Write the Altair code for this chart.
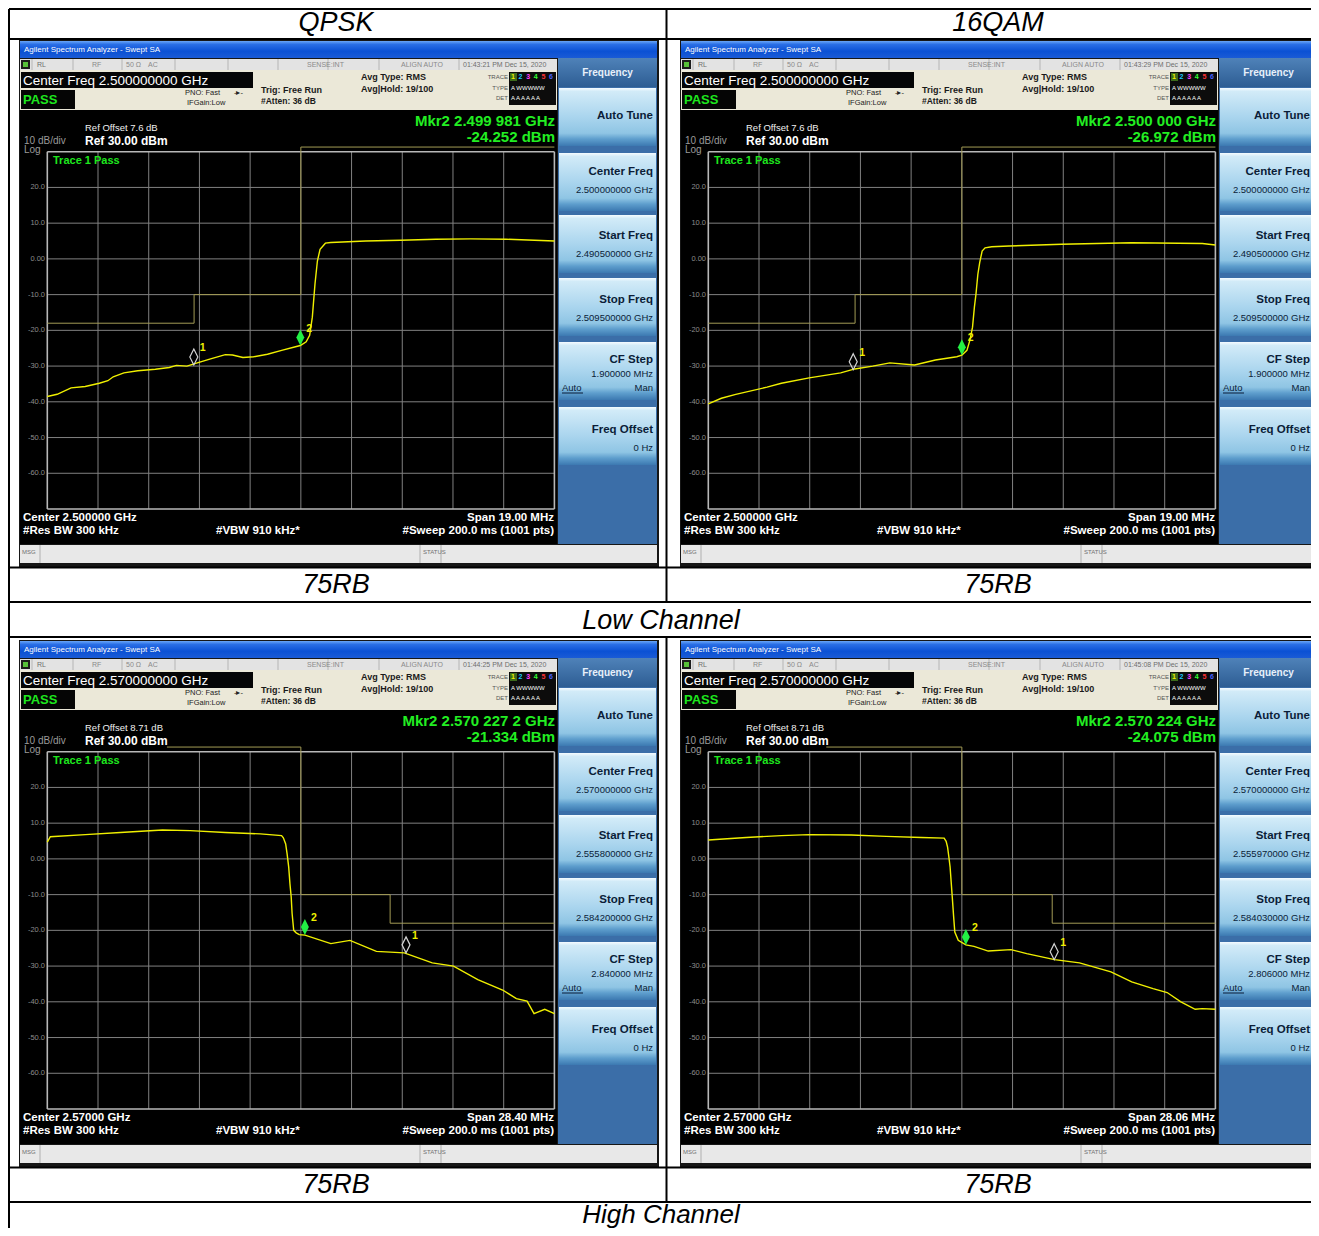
import altair as alt
import pandas as pd

# ============================== DATA ==============================
# Trace readings (frequency in MHz, level in dBm)
qpsk_low_freq = [2490.50, 2490.87, 2491.39, 2491.92, 2492.45, 2492.77, 2492.97, 2493.37, 2493.89,
                 2494.55, 2495.07, 2495.34, 2495.73, 2496.12, 2496.65, 2497.17, 2497.44, 2497.83,
                 2498.23, 2498.75, 2499.28, 2499.80, 2499.98, 2500.20, 2500.33, 2500.43, 2500.53,
                 2500.62, 2500.72, 2500.92, 2501.12, 2502.43, 2503.74, 2505.06, 2506.37, 2507.69, 2509.50]
qpsk_low_level = [-38.5, -37.9, -36.1, -35.7, -34.8, -34.1, -33.0, -31.9, -31.3,
                  -30.9, -30.4, -29.8, -30.0, -29.1, -27.9, -26.8, -26.9, -27.6,
                  -27.4, -26.7, -25.6, -24.6, -24.25, -23.2, -21.4, -16.3, -7.0,
                  -0.6, 2.7, 4.4, 4.6, 5.0, 5.2, 5.5, 5.6, 5.5, 5.0]

qam_low_freq = [2490.50, 2490.99, 2491.53, 2492.70, 2493.24, 2494.28, 2495.46, 2495.99, 2496.66,
                2497.30, 2498.23, 2499.01, 2499.81, 2500.00, 2500.19, 2500.30, 2500.40, 2500.47,
                2500.53, 2500.60, 2500.67, 2500.76, 2500.87, 2501.12, 2501.77, 2503.74, 2506.37,
                2509.01, 2509.50]
qam_low_level = [-40.6, -39.0, -37.9, -35.9, -34.8, -33.3, -31.9, -30.8, -30.0,
                 -29.1, -29.7, -28.3, -27.4, -26.97, -25.6, -22.8, -19.1, -13.5,
                 -9.8, -4.3, -1.0, 2.2, 3.1, 3.4, 3.6, 4.1, 4.5,
                 4.3, 3.9]

qpsk_high_freq = [2555.80, 2555.97, 2557.93, 2559.89, 2562.25, 2563.81, 2565.77, 2567.73, 2568.92,
                  2569.02, 2569.15, 2569.23, 2569.32, 2569.39, 2569.46, 2569.51, 2569.60, 2569.74,
                  2569.91, 2570.23, 2571.68, 2572.75, 2574.23, 2575.79, 2577.36, 2578.55, 2579.91,
                  2581.30, 2582.07, 2582.67, 2583.06, 2583.66, 2584.20]
qpsk_high_level = [4.7, 6.2, 6.8, 7.4, 8.1, 7.9, 7.4, 7.0, 6.5,
                   5.9, 4.2, 1.4, -2.3, -7.0, -10.7, -15.3, -20.0, -20.7,
                   -21.2, -21.33, -23.7, -22.8, -25.9, -26.3, -29.1, -30.0, -33.8,
                   -36.7, -39.1, -39.8, -43.3, -42.1, -43.3]

qam_high_freq = [2555.97, 2558.07, 2560.01, 2561.55, 2563.88, 2565.82, 2567.76, 2569.02, 2569.13,
                 2569.21, 2569.28, 2569.35, 2569.41, 2569.47, 2569.54, 2569.61, 2569.80, 2570.22,
                 2570.67, 2571.46, 2572.72, 2573.59, 2575.13, 2576.51, 2578.25, 2579.40, 2580.58,
                 2581.36, 2582.12, 2582.91, 2583.30, 2584.03]
qam_high_level = [5.3, 6.0, 6.5, 6.8, 6.7, 6.3, 6.0, 5.8, 4.9,
                  3.3, 0.6, -2.3, -6.5, -10.7, -15.8, -20.5, -22.8, -24.08,
                  -24.5, -25.8, -25.4, -26.5, -28.2, -29.1, -31.6, -34.4, -36.3,
                  -37.4, -40.0, -42.1, -41.9, -42.1]

# Limit (mask) line vertices
low_limit_freq = [2490.5, 2496.0, 2496.0, 2500.0, 2500.0, 2509.5]
low_limit_level = [-18, -18, -10, -10, 31.3, 31.3]
qpsk_high_limit_freq = [2562.5, 2570.0, 2570.0, 2575.0, 2575.0, 2584.2]
qam_high_limit_freq = [2562.5, 2570.0, 2570.0, 2575.0, 2575.0, 2584.03]
high_limit_level = [31.3, 31.3, -10, -10, -18, -18]

# Markers (freq MHz, level dBm): marker 1 and marker 2 per screenshot
marker1_freq = [2495.99, 2495.93, 2575.89, 2575.11]
marker1_level = [-29.7, -31.0, -26.3, -28.2]
marker2_freq = [2499.981, 2500.000, 2570.227, 2570.224]
marker2_level = [-24.252, -26.972, -21.334, -24.075]

# Frequency spans (start, stop in MHz)
span_start = [2490.5, 2490.5, 2555.8, 2555.97]
span_stop = [2509.5, 2509.5, 2584.2, 2584.03]

# Display graticule
ref_levels = [30, 20, 10, 0, -10, -20, -30, -40, -50, -60, -70]
y_tick_levels = [20, 10, 0, -10, -20, -30, -40, -50, -60]
y_tick_labels = ["20.0", "10.0", "0.00", "-10.0", "-20.0", "-30.0", "-40.0", "-50.0", "-60.0"]

# Screen texts per screenshot
hdr_center = ["Center Freq 2.500000000 GHz", "Center Freq 2.500000000 GHz",
              "Center Freq 2.570000000 GHz", "Center Freq 2.570000000 GHz"]
stamps = ["01:43:21 PM Dec 15, 2020", "01:43:29 PM Dec 15, 2020",
          "01:44:25 PM Dec 15, 2020", "01:45:08 PM Dec 15, 2020"]
ref_offsets = ["Ref Offset 7.6 dB", "Ref Offset 7.6 dB", "Ref Offset 8.71 dB", "Ref Offset 8.71 dB"]
mkr_freq_txt = ["Mkr2 2.499 981 GHz", "Mkr2 2.500 000 GHz", "Mkr2 2.570 227 2 GHz", "Mkr2 2.570 224 GHz"]
mkr_level_txt = ["-24.252 dBm", "-26.972 dBm", "-21.334 dBm", "-24.075 dBm"]
center_txt = ["Center 2.500000 GHz", "Center 2.500000 GHz", "Center 2.57000 GHz", "Center 2.57000 GHz"]
span_txt = ["Span 19.00 MHz", "Span 19.00 MHz", "Span 28.40 MHz", "Span 28.06 MHz"]
sk_center = ["2.500000000 GHz", "2.500000000 GHz", "2.570000000 GHz", "2.570000000 GHz"]
sk_start = ["2.490500000 GHz", "2.490500000 GHz", "2.555800000 GHz", "2.555970000 GHz"]
sk_stop = ["2.509500000 GHz", "2.509500000 GHz", "2.584200000 GHz", "2.584030000 GHz"]
sk_step = ["1.900000 MHz", "1.900000 MHz", "2.840000 MHz", "2.806000 MHz"]

# Table labels
col_titles = ["QPSK", "16QAM"]
rb_label = "75RB"
row_titles = ["Low Channel", "High Channel"]

traces_freq = [qpsk_low_freq, qam_low_freq, qpsk_high_freq, qam_high_freq]
traces_level = [qpsk_low_level, qam_low_level, qpsk_high_level, qam_high_level]
limits_freq = [low_limit_freq, low_limit_freq, qpsk_high_limit_freq, qam_high_limit_freq]
limits_level = [low_limit_level, low_limit_level, high_limit_level, high_limit_level]

# ============================== LAYOUT ==============================
OFF = 8
W, H = 1303, 1220
SANS = "Liberation Sans, Arial, Helvetica, sans-serif"
ORIGINS = [(20, 41), (681, 41), (20, 641), (681, 641)]
SK_RIGHT = [633, 629, 633, 629]   # right edge of soft-key labels (kept inside the page)
DIAMOND = "M0,-1L0.25,-0.5L0,0L-0.25,-0.5Z"

rects, lines, texts, grads = [], [], [], {}


def R(x0, y0, x1, y1, fill):
    rects.append(dict(x=x0 - OFF, x2=x1 - OFF, y=y0 - OFF, y2=y1 - OFF, c=fill))


def L(x0, y0, x1, y1, color, w=1.0):
    lines.append(dict(x=x0 - OFF, x2=x1 - OFF, y=y0 - OFF, y2=y1 - OFF, c=color, w=w))


def T(x, y, t, size, color, align="left", weight="normal", italic=False):
    texts.append(dict(x=x - OFF, y=y - OFF, t=t, s=size, c=color, align=align, weight=weight,
                      style="italic" if italic else "normal"))


def G(name, x0, y0, x1, y1):
    grads.setdefault(name, []).append(dict(x=x0 - OFF, x2=x1 - OFF, y=y0 - OFF, y2=y1 - OFF))


GRAD_STOPS = {
    "title": [(0, "#6aa6f7"), (0.2, "#2a6fe6"), (0.6, "#0b51d4"), (1, "#1a5bd6")],
    "freqhdr": [(0, "#4f82b9"), (1, "#2d5d93")],
    "button": [(0, "#f4fbff"), (0.06, "#d2ebf8"), (0.5, "#aad5ee"), (0.78, "#8fc5e4"),
               (0.88, "#5e9ecd"), (1, "#3c79b1")],
}


def chrome(k):
    ox, oy = ORIGINS[k]
    skr = SK_RIGHT[k]

    def r(x0, y0, x1, y1, fill):
        R(ox + x0, oy + y0, ox + x1, oy + y1, fill)

    def l(x0, y0, x1, y1, c, w=1.0):
        L(ox + x0, oy + y0, ox + x1, oy + y1, c, w)

    def t(x, y, s, size, color, **kw):
        T(ox + x, oy + y, s, size, color, **kw)

    def g(name, x0, y0, x1, y1):
        G(name, ox + x0, oy + y0, ox + x1, oy + y1)

    r(-1, -1, 639, 527, "#161616")
    g("title", 0, 0, 637, 17)
    t(4, 9, "Agilent Spectrum Analyzer - Swept SA", 8, "#ffffff")
    # status row
    r(0, 18, 537, 29, "#e3e3e3")
    for sx in [12, 53, 102, 155, 208, 258, 308, 359, 439]:
        l(sx, 18, sx, 29, "#b5b5b5")
    r(1, 19, 10, 28, "#1c1c1c")
    r(3, 21, 8, 26, "#57c13a")
    t(17, 23.5, "RL", 7, "#6e6e6e")
    t(72, 23.5, "RF", 7, "#8a8a8a")
    t(106, 23.5, "50 Ω", 7, "#8a8a8a")
    t(128, 23.5, "AC", 7, "#8a8a8a")
    t(287, 23.5, "SENSE:INT", 7, "#8a8a8a")
    t(381, 23.5, "ALIGN AUTO", 7, "#8a8a8a")
    t(443, 23.5, stamps[k], 7, "#6e6e6e")
    # beige header
    r(0, 29, 537, 69, "#ebe8d8")
    r(1, 31, 233, 47, "#050505")
    t(3, 39.5, hdr_center[k], 13.5, "#ffffff")
    r(1, 49, 55, 68, "#050505")
    t(3, 58.5, "PASS", 13, "#1ee61e", weight="bold")
    t(165, 51.5, "PNO: Fast", 7.5, "#222222")
    t(214, 51.5, "-▸-", 7.5, "#222222")
    t(167, 61.5, "IFGain:Low", 7.5, "#222222")
    t(241, 48.5, "Trig: Free Run", 9, "#1a1a1a", weight="bold")
    t(241, 59.5, "#Atten: 36 dB", 8.5, "#1a1a1a", weight="bold")
    t(341, 36, "Avg Type: RMS", 9, "#1a1a1a", weight="bold")
    t(341, 47.5, "Avg|Hold: 19/100", 9, "#1a1a1a", weight="bold")
    r(489, 31, 536, 64, "#0c0c0c")
    t(488, 36, "TRACE", 6, "#555555", align="right")
    t(488, 47, "TYPE", 6, "#555555", align="right")
    t(488, 57, "DET", 6, "#555555", align="right")
    r(490, 32, 497, 40, "#3c6a1a")
    for j, col in enumerate(["#f0f000", "#19c8ff", "#ff3cff", "#33ff33", "#ff3333", "#4a64ff"]):
        t(491 + 7.6 * j, 36, str(j + 1), 7, col, weight="bold")
    t(491, 47, "A WWWWW", 6, "#ffffff")
    t(491, 57, "A A A A A A", 6, "#ffffff")
    # black screen
    r(0, 69, 537, 503, "#000000")
    t(535, 80, mkr_freq_txt[k], 15, "#22ee22", align="right", weight="bold")
    t(535, 96, mkr_level_txt[k], 15, "#22ee22", align="right", weight="bold")
    t(65, 87, ref_offsets[k], 9.5, "#f0f0f0")
    t(65, 100, "Ref 30.00 dBm", 12, "#ffffff", weight="bold")
    t(4, 100, "10 dB/div", 10, "#9a9a9a")
    t(4, 109, "Log", 10, "#9a9a9a")
    t(33, 119.5, "Trace 1 Pass", 11, "#1ee61e", weight="bold")
    t(3, 477, center_txt[k], 11.5, "#ffffff", weight="bold")
    t(3, 490, "#Res BW 300 kHz", 11.5, "#ffffff", weight="bold")
    t(196, 490, "#VBW 910 kHz*", 11.5, "#ffffff", weight="bold")
    t(534, 477, span_txt[k], 11.5, "#ffffff", align="right", weight="bold")
    t(534, 490, "#Sweep  200.0 ms (1001 pts)", 11.5, "#ffffff", align="right", weight="bold")
    # message bar
    r(0, 504, 637, 522, "#e8e8e8")
    for sx in [20, 400, 421]:
        l(sx, 504, sx, 522, "#b0b0b0")
    t(2, 511, "MSG", 6, "#707070")
    t(403, 511, "STATUS", 6, "#707070")
    # soft keys
    r(538, 17, 637, 503, "#3b6ea8")
    g("freqhdr", 538, 17, 637, 46)
    t(587.5, 32, "Frequency", 10, "#e8f0fa", align="center", weight="bold")
    tops = [47, 112, 174, 237, 301, 366]
    for tp in tops:
        g("button", 539, tp, 636, tp + 58)
    navy = "#0b1d38"
    t(skr, 75, "Auto Tune", 11.5, navy, align="right", weight="bold")
    t(skr, 131, "Center Freq", 11.5, navy, align="right", weight="bold")
    t(skr, 149, sk_center[k], 9.5, navy, align="right")
    t(skr, 195, "Start Freq", 11.5, navy, align="right", weight="bold")
    t(skr, 213, sk_start[k], 9.5, navy, align="right")
    t(skr, 259, "Stop Freq", 11.5, navy, align="right", weight="bold")
    t(skr, 277, sk_stop[k], 9.5, navy, align="right")
    t(skr, 319, "CF Step", 11.5, navy, align="right", weight="bold")
    t(skr, 333, sk_step[k], 9.5, navy, align="right")
    t(542, 347, "Auto", 9.5, navy)
    l(542, 352, 563, 352, navy, 1)
    t(skr, 347, "Man", 9.5, navy, align="right")
    t(skr, 389, "Freq Offset", 11.5, navy, align="right", weight="bold")
    t(skr, 407, "0 Hz", 9.5, navy, align="right")


for k in range(4):
    chrome(k)

# table grid and labels
for yy in [9, 39, 567.5, 602, 637, 1167.5, 1202]:
    L(9, yy, 1316, yy, "#000000", 2)
L(9, 9, 9, 1236, "#000000", 2)
L(666.5, 9, 666.5, 602, "#000000", 2)
L(666.5, 637, 666.5, 1202, "#000000", 2)
T(336, 23, col_titles[0], 27, "#000000", align="center", italic=True)
T(998, 23, col_titles[1], 27, "#000000", align="center", italic=True)
for yy in [585, 1185]:
    T(336, yy, rb_label, 27, "#000000", align="center", italic=True)
    T(998, yy, rb_label, 27, "#000000", align="center", italic=True)
T(661, 620.5, row_titles[0], 27, "#000000", align="center", italic=True)
T(661, 1215, row_titles[1], 26, "#000000", align="center", italic=True)

# ============================== CHARTS ==============================
PX = lambda f: alt.X(f"{f}:Q", scale=None)
PY = lambda f: alt.Y(f"{f}:Q", scale=None)

base_layers = [
    alt.Chart(pd.DataFrame(rects)).mark_rect(strokeWidth=0).encode(
        x=PX("x"), x2="x2", y=PY("y"), y2="y2", color=alt.Color("c:N", scale=None))
]
for name, items in grads.items():
    grad = alt.LinearGradient(
        gradient="linear", x1=0, x2=0, y1=0, y2=1,
        stops=[alt.GradientStop(offset=o, color=c) for o, c in GRAD_STOPS[name]])
    base_layers.append(alt.Chart(pd.DataFrame(items)).mark_rect(fill=grad, strokeWidth=0).encode(
        x=PX("x"), x2="x2", y=PY("y"), y2="y2"))
base_layers.append(alt.Chart(pd.DataFrame(lines)).mark_rule().encode(
    x=PX("x"), x2="x2", y=PY("y"), y2="y2", color=alt.Color("c:N", scale=None),
    strokeWidth=alt.StrokeWidth("w:Q", scale=None)))


def panel(k):
    ox, oy = ORIGINS[k]
    start, stop = span_start[k], span_stop[k]
    xs = alt.Scale(domain=[start, stop], range=[ox + 27.3 - OFF, ox + 534.4 - OFF], nice=False, zero=False)
    ys = alt.Scale(domain=[-70, 30], range=[oy + 468.0 - OFF, oy + 110.7 - OFF], nice=False, zero=False)
    X = lambda f: alt.X(f"{f}:Q", scale=xs, axis=None)
    Y = lambda f: alt.Y(f"{f}:Q", scale=ys, axis=None)
    step = (stop - start) / 10
    vf = [start + j * step for j in range(11)]
    v_in = pd.DataFrame({"f": vf[1:-1], "top": 30, "bot": -70})
    v_edge = pd.DataFrame({"f": [vf[0], vf[-1]], "top": 30, "bot": -70})
    h_in = pd.DataFrame({"lvl": ref_levels[1:-1], "f0": start, "f1": stop})
    h_edge = pd.DataFrame({"lvl": [ref_levels[0], ref_levels[-1]], "f0": start, "f1": stop})
    ylab = pd.DataFrame({"lvl": y_tick_levels, "lab": y_tick_labels})
    lim = pd.DataFrame({"f": limits_freq[k], "db": limits_level[k], "i": list(range(len(limits_freq[k])))})
    tr = pd.DataFrame({"f": traces_freq[k], "db": traces_level[k], "i": list(range(len(traces_freq[k])))})
    m1 = pd.DataFrame({"f": [marker1_freq[k]], "db": [marker1_level[k]]})
    m2 = pd.DataFrame({"f": [marker2_freq[k]], "db": [marker2_level[k]]})
    grid_c = "#808080"
    return alt.layer(
        alt.Chart(v_in).mark_rule(color=grid_c, strokeWidth=1).encode(x=X("f"), y=Y("top"), y2="bot"),
        alt.Chart(h_in).mark_rule(color=grid_c, strokeWidth=1).encode(x=X("f0"), x2="f1", y=Y("lvl")),
        alt.Chart(v_edge).mark_rule(color="#b8b8b8", strokeWidth=1.6).encode(x=X("f"), y=Y("top"), y2="bot"),
        alt.Chart(h_edge).mark_rule(color="#b8b8b8", strokeWidth=1.6).encode(x=X("f0"), x2="f1", y=Y("lvl")),
        alt.Chart(ylab).mark_text(align="right", baseline="middle", fontSize=7.5, color="#8c8c8c", font=SANS).encode(
            x=alt.value(ox + 25 - OFF), y=Y("lvl"), text="lab:N"),
        alt.Chart(lim).mark_line(color="#a39b55", strokeWidth=1).encode(x=X("f"), y=Y("db"), order="i:Q"),
        alt.Chart(tr).mark_line(color="#f0f000", strokeWidth=1.4).encode(x=X("f"), y=Y("db"), order="i:Q"),
        alt.Chart(m1).mark_point(shape=DIAMOND, size=1024, filled=False, color="#d4d4d4", strokeWidth=1.2,
                                 opacity=1).encode(x=X("f"), y=Y("db")),
        alt.Chart(m2).mark_point(shape=DIAMOND, size=1024, filled=True, color="#22f044", opacity=1).encode(
            x=X("f"), y=Y("db")),
        alt.Chart(m1).mark_text(text="1", align="left", dx=6, dy=-17, fontSize=10.5, fontWeight="bold",
                                color="#f0f000", font=SANS).encode(x=X("f"), y=Y("db")),
        alt.Chart(m2).mark_text(text="2", align="left", dx=6, dy=-17, fontSize=10.5, fontWeight="bold",
                                color="#f0f000", font=SANS).encode(x=X("f"), y=Y("db")),
    )


panel_layers = [panel(k) for k in range(4)]

tdf = pd.DataFrame(texts)
text_layers = []
for (align, weight, style), sub in tdf.groupby(["align", "weight", "style"]):
    text_layers.append(alt.Chart(sub[["x", "y", "t", "s", "c"]]).mark_text(
        align=align, baseline="middle", fontWeight=weight, fontStyle=style, font=SANS).encode(
        x=PX("x"), y=PY("y"), text="t:N", color=alt.Color("c:N", scale=None),
        size=alt.Size("s:Q", scale=None)))

chart = alt.layer(*base_layers, *panel_layers, *text_layers).resolve_scale(
    x="independent", y="independent"
).properties(
    width=W, height=H, padding=0, autosize=alt.AutoSizeParams(type="none"), background="#ffffff"
).configure_view(stroke=None)

chart.save("out.html", embed_options={"renderer": "svg", "actions": False})
